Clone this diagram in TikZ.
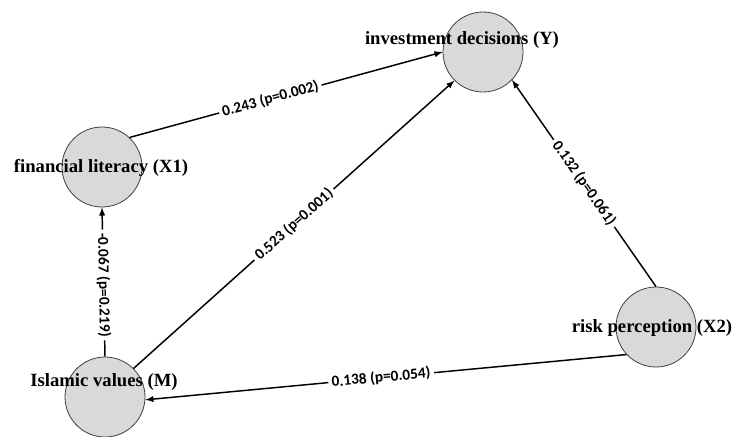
\documentclass[tikz,border=0pt]{standalone}
\usepackage{fontspec}
\setmainfont{Liberation Serif}
\newfontfamily\edgefont{Carlito}
\usetikzlibrary{arrows}
\usetikzlibrary{positioning}

\begin{document}
\begin{tikzpicture}[x=0.75pt,y=-0.75pt,>=latex,
  every node/.style={inner sep=1pt},
  var/.style={draw=black!75,circle,fill=black!15,minimum size=60pt,line width=0.6pt},
  varname/.style={font=\fontsize{14}{16}\selectfont\bfseries},
  coef/.style={font=\edgefont\fontsize{11.5}{13}\selectfont\bfseries,fill=white,sloped,inner sep=2.5pt},
  path/.style={->,line width=1.1pt}]
\useasboundingbox (0,0) rectangle (737,436);
  \node[var] (Y) at (483,52){};
  \node[var] (X1) at (102,167){};
  \node[var] (M) at (105,397){};
  \node[var] (X2) at (656,327){};
  \node[varname] (Ylab) at (462,40){investment decisions (Y)};
  \node[varname] (X1lab) at (101,168){financial literacy (X1)};
  \node[varname] (Mlab) at (104,382){Islamic values (M)};
  \node[varname] (X2lab) at (652,328){risk perception (X2)};
  \draw[path](X1.47)--node[coef,pos=0.45]{0.243 (p=0.002)}(Y.180);
  \draw[path](M.45)--node[coef,pos=0.5]{0.523 (p=0.001)}(Y.225);
  \draw[path](X2.90)--node[coef,pos=0.5]{0.132 (p=0.061)}(Y.316);
  \draw[path,<-](X1.270)--node[coef,pos=0.52]{-0.067 (p=0.219)}(M.90);
  \draw[path](X2.223)--node[coef,pos=0.51]{0.138 (p=0.054)}(M.356);
\end{tikzpicture}
\end{document}
